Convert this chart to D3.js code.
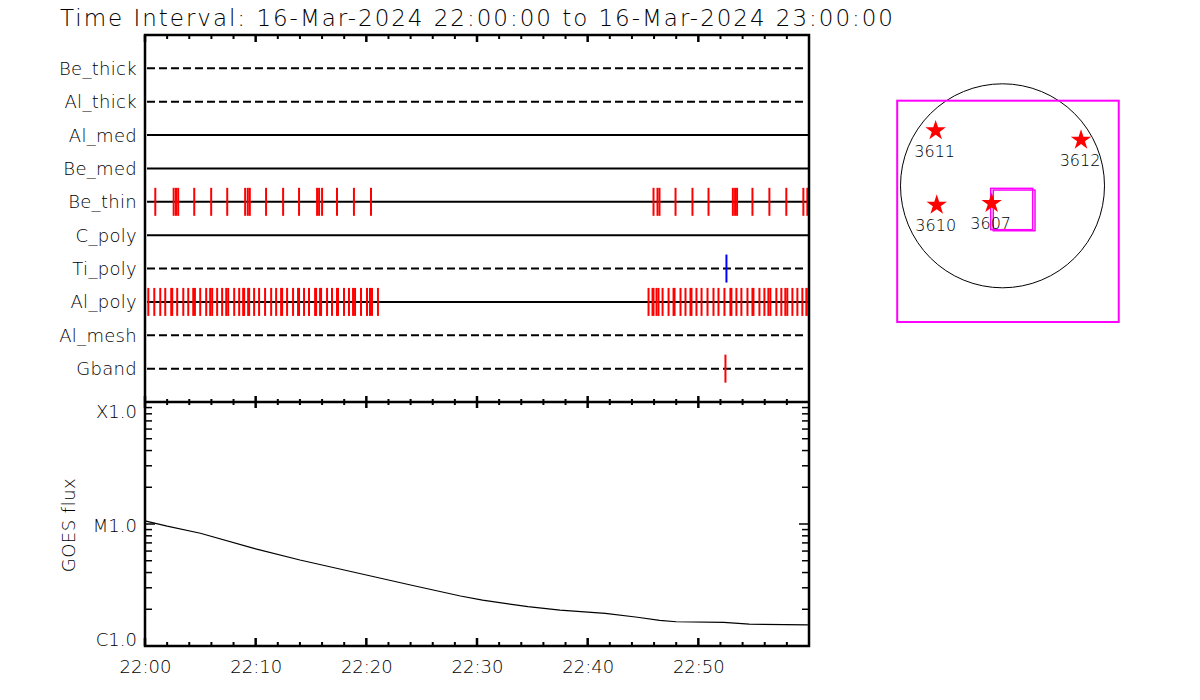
<!DOCTYPE html>
<html>
<head>
<meta charset="utf-8">
<script src="https://cdn.jsdelivr.net/npm/d3@7"></script>
<style>
  body { margin: 0; background: #fff; }
  svg { font-family: "DejaVu Sans", sans-serif; }
  svg text { font-weight: 200; fill: #000; }
</style>
</head>
<body>
<script>
// detector rows, top to bottom
var rows = ["Be_thick", "Al_thick", "Al_med", "Be_med", "Be_thin", "C_poly", "Ti_poly", "Al_poly", "Al_mesh", "Gband"];
var rowDashed = [true, true, false, false, false, false, true, false, true, true];

// exposure times, minutes after 22:00
var beThinTimes = [0.93, 2.59, 2.80, 3.00, 4.45, 5.98, 7.43, 9.05, 9.29, 9.47, 10.94, 12.48, 13.92,
  15.55, 15.73, 16.00, 17.35, 18.88, 20.42,
  45.95, 46.31, 46.49, 47.94, 49.47, 50.92, 53.12, 53.32, 53.50, 54.89, 56.42, 57.95, 59.49, 59.85];
var alPolyTimes = [0.30, 0.84, 1.38, 1.83, 2.37, 2.46, 2.91, 3.46, 3.91, 4.36, 4.51, 4.99, 5.53, 5.89,
  6.07, 6.52, 6.97, 7.34, 7.52, 8.06, 8.51, 8.87, 8.96, 9.32, 9.41, 9.86, 10.31, 10.85, 11.40, 11.85,
  12.30, 12.39, 12.84, 13.38, 13.83, 13.92, 14.37, 14.82, 15.37, 15.46, 15.82, 15.91, 16.45, 16.90,
  17.35, 17.44, 17.98, 18.43, 18.80, 18.98, 19.52, 20.06, 20.33, 20.51, 21.05,
  45.50, 45.86, 45.95, 46.22, 46.40, 46.77, 47.31, 47.76, 47.85, 48.39, 48.84, 49.29, 49.38, 49.83,
  50.29, 50.83, 51.37, 51.82, 52.36, 52.90, 52.99, 53.44, 53.89, 54.44, 54.89, 54.98, 55.52, 55.97,
  56.33, 56.51, 57.05, 57.50, 57.86, 58.04, 58.50, 58.95, 59.40, 59.76, 59.94];
var tiPolyTimes = [52.54];
var gbandTimes = [52.45];

// GOES flux curve
var goesMinutes = [0, 2, 5, 10, 14, 20, 24, 28.5, 30.5, 34.6, 37.5, 41.6, 44.5, 46.5, 48, 52.3, 54.6, 59.9];
var goesFlux = [1.06e-5, 9.6e-6, 8.4e-6, 6.25e-6, 5.07e-6, 3.82e-6, 3.16e-6, 2.57e-6, 2.38e-6, 2.10e-6,
  1.97e-6, 1.85e-6, 1.72e-6, 1.62e-6, 1.58e-6, 1.56e-6, 1.51e-6, 1.49e-6];
var goesTickValues = [1e-6, 1e-5, 1e-4];
var goesTickLabels = ["C1.0", "M1.0", "X1.0"];

// active regions (arcsec)
var arNumbers = ["3611", "3612", "3610", "3607"];
var arX = [-629, 739, -619, -102];
var arY = [519, 431, -181, -165];
// field of view boxes (arcsec): x0, x1, y0, y1
var fovX0 = [-991, -111, -87];
var fovX1 = [1094, 284, 306];
var fovY0 = [801, -24, -40];
var fovY1 = [-1282, -413, -423];
var solarRadius = 960;

var W = 1200, H = 700;
var left = 145, right = 809, top1 = 35, bot1 = 402, bot2 = 646;

var svg = d3.select("body").append("svg")
    .attr("width", W)
    .attr("height", H);

var t0 = new Date(Date.UTC(2024, 2, 16, 22, 0, 0));
var t1 = new Date(Date.UTC(2024, 2, 16, 23, 0, 0));
function tm(m) { return new Date(t0.getTime() + m * 60000); }

var x = d3.scaleUtc().domain([t0, t1]).range([left, right]);
var yRow = d3.scalePoint().domain(rows).range([top1, bot1]).padding(1);
var yGoes = d3.scaleLog().domain([1e-6, 1e-4]).range([bot2, bot1]);

// title
svg.append("text")
    .attr("x", 60)
    .attr("y", 26)
    .attr("textLength", 833)
    .attr("lengthAdjust", "spacing")
    .style("font-size", "23px")
    .text("Time Interval: 16-Mar-2024 22:00:00 to 16-Mar-2024 23:00:00");

// row lines
svg.selectAll(".row")
    .data(rows)
    .enter().append("line")
    .attr("class", "row")
    .attr("x1", left + 2)
    .attr("x2", function(d, i) { return rowDashed[i] ? right - 3 : right; })
    .attr("y1", function(d) { return yRow(d); })
    .attr("y2", function(d) { return yRow(d); })
    .attr("stroke", "#000")
    .attr("stroke-width", 2)
    .attr("stroke-dasharray", function(d, i) { return rowDashed[i] ? "8,4" : null; });

svg.selectAll(".rowlab")
    .data(rows)
    .enter().append("text")
    .attr("class", "rowlab")
    .attr("x", 137)
    .attr("y", function(d) { return yRow(d); })
    .attr("dy", "0.36em")
    .attr("text-anchor", "end")
    .style("font-size", "18px")
    .style("letter-spacing", "0.3px")
    .text(function(d) { return d; });

// exposure ticks
function expTicks(times, row, color) {
    svg.append("g").selectAll("line")
        .data(times)
        .enter().append("line")
        .attr("x1", function(d) { return x(tm(d)); })
        .attr("x2", function(d) { return x(tm(d)); })
        .attr("y1", yRow(row) - 14)
        .attr("y2", yRow(row) + 14)
        .attr("stroke", color)
        .attr("stroke-width", 2);
}
expTicks(beThinTimes, "Be_thin", "#ff0000");
expTicks(alPolyTimes, "Al_poly", "#ff0000");
expTicks(tiPolyTimes, "Ti_poly", "#0000ff");
expTicks(gbandTimes, "Gband", "#ff0000");

// time ticks along horizontal borders
var minorT = d3.utcMinute.every(2).range(t0, t1);
function timeTicks(y0, dir, lenMinor, lenMajor) {
    svg.append("g").selectAll("line")
        .data(minorT)
        .enter().append("line")
        .attr("x1", function(d) { return x(d); })
        .attr("x2", function(d) { return x(d); })
        .attr("y1", y0)
        .attr("y2", function(d) { return y0 + dir * (d.getUTCMinutes() % 10 === 0 ? lenMajor : lenMinor); })
        .attr("stroke", "#000")
        .attr("stroke-width", function(d) { return d.getUTCMinutes() % 10 === 0 ? 2.5 : 2; });
}
timeTicks(top1, 1, 4, 7);
timeTicks(bot1, -1, 3, 6);
timeTicks(bot1, 1, 3, 6);
timeTicks(bot2, -1, 4, 8);

// bottom labels (no label at the right edge)
var xAxis = d3.axisBottom(x)
    .tickValues(d3.utcMinute.every(10).range(t0, t1))
    .tickFormat(d3.utcFormat("%H:%M"))
    .tickSize(0)
    .tickPadding(14);
var gx = svg.append("g")
    .attr("transform", "translate(0," + bot2 + ")")
    .call(xAxis);
gx.select(".domain").remove();
gx.selectAll("text")
    .style("font-size", "18px")
    .style("font-family", "DejaVu Sans, sans-serif")
    .attr("fill", "#000");

// GOES log ticks on both sides
var minorF = [];
[1e-6, 1e-5].forEach(function(dec) {
    for (var k = 2; k <= 9; k++) minorF.push(k * dec);
});
[[left, 1], [right, -1]].forEach(function(s) {
    svg.append("g").selectAll("line")
        .data(minorF.concat(goesTickValues))
        .enter().append("line")
        .attr("x1", s[0])
        .attr("x2", function(d) { return s[0] + s[1] * (goesTickValues.indexOf(d) >= 0 ? 10 : 7); })
        .attr("y1", function(d) { return yGoes(d); })
        .attr("y2", function(d) { return yGoes(d); })
        .attr("stroke", "#000")
        .attr("stroke-width", 1.5);
});

// decade labels: top one hangs below its tick, bottom one sits on it
var labelShift = [-1, 7, 15];
var yAxis = d3.axisLeft(yGoes)
    .tickValues(goesTickValues)
    .tickFormat(function(d, i) { return goesTickLabels[i]; })
    .tickSize(0)
    .tickPadding(8);
var gy = svg.append("g")
    .attr("transform", "translate(" + left + ",0)")
    .call(yAxis);
gy.select(".domain").remove();
gy.selectAll("text")
    .attr("dy", null)
    .attr("y", function(d, i) { return labelShift[i]; })
    .style("font-size", "18px")
    .style("font-family", "DejaVu Sans, sans-serif")
    .attr("fill", "#000");

svg.append("text")
    .attr("transform", "translate(75,525) rotate(-90)")
    .attr("text-anchor", "middle")
    .style("font-size", "18px")
    .style("letter-spacing", "0.5px")
    .text("GOES flux");

// GOES curve
var line = d3.line()
    .x(function(d, i) { return x(tm(goesMinutes[i])); })
    .y(function(d) { return yGoes(d); });
svg.append("path")
    .datum(goesFlux)
    .attr("d", line)
    .attr("fill", "none")
    .attr("stroke", "#000")
    .attr("stroke-width", 1.2);

// frames
svg.append("path")
    .attr("d", "M" + left + "," + top1 + "H" + right + "V" + bot2 + "H" + left + "Z" +
               "M" + left + "," + bot1 + "H" + right)
    .attr("fill", "none")
    .attr("stroke", "#000")
    .attr("stroke-width", 2.5);

// solar disk map
var sx = d3.scaleLinear().domain([-solarRadius, solarRadius]).range([900.5, 1104.5]);
var sy = d3.scaleLinear().domain([-solarRadius, solarRadius]).range([287.8, 83.8]);

svg.append("circle")
    .attr("cx", sx(0))
    .attr("cy", sy(0))
    .attr("r", sx(solarRadius) - sx(0))
    .attr("fill", "none")
    .attr("stroke", "#000")
    .attr("stroke-width", 1);

svg.selectAll(".fov")
    .data(fovX0)
    .enter().append("rect")
    .attr("class", "fov")
    .attr("x", function(d, i) { return sx(fovX0[i]); })
    .attr("y", function(d, i) { return sy(fovY0[i]); })
    .attr("width", function(d, i) { return sx(fovX1[i]) - sx(fovX0[i]); })
    .attr("height", function(d, i) { return sy(fovY1[i]) - sy(fovY0[i]); })
    .attr("fill", "none")
    .attr("stroke", "#ff00ff")
    .attr("stroke-width", function(d, i) { return i === 0 ? 2 : 1.5; });

var star = d3.symbol().type(d3.symbolStar).size(130);
svg.selectAll(".ar")
    .data(arNumbers)
    .enter().append("path")
    .attr("class", "ar")
    .attr("d", star)
    .attr("transform", function(d, i) { return "translate(" + sx(arX[i]) + "," + sy(arY[i]) + ")"; })
    .attr("fill", "#ff0000");

svg.selectAll(".arlab")
    .data(arNumbers)
    .enter().append("text")
    .attr("class", "arlab")
    .attr("x", function(d, i) { return sx(arX[i]) - 1; })
    .attr("y", function(d, i) { return sy(arY[i]) + 26; })
    .attr("text-anchor", "middle")
    .style("font-size", "16px")
    .text(function(d) { return d; });
</script>
</body>
</html>
